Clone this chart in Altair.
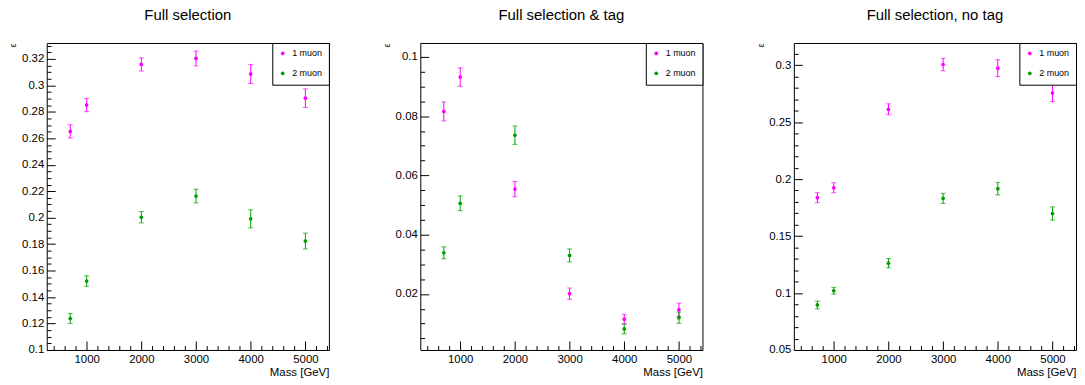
import altair as alt
import pandas as pd

# ---------------- data ----------------
mass = [700, 1000, 2000, 3000, 4000, 5000]
series_names = ["1 muon", "2 muon"]
series_colors = ["#ff00ff", "#00a000"]
panel_titles = ["Full selection", "Full selection & tag", "Full selection, no tag"]

full_1mu = [0.2652, 0.2851, 0.3158, 0.3203, 0.3086, 0.2903]
full_1mu_err = [0.0050, 0.0050, 0.0050, 0.0056, 0.0072, 0.0070]
full_2mu = [0.1238, 0.1521, 0.2003, 0.2163, 0.1991, 0.1823]
full_2mu_err = [0.0037, 0.0040, 0.0043, 0.0052, 0.0068, 0.0060]

tag_1mu = [0.0816, 0.0932, 0.0554, 0.0201, 0.0115, 0.0147]
tag_1mu_err = [0.0032, 0.0031, 0.0026, 0.0019, 0.0016, 0.0022]
tag_2mu = [0.0339, 0.0506, 0.0736, 0.0330, 0.0082, 0.0120]
tag_2mu_err = [0.0020, 0.0025, 0.0031, 0.0022, 0.0016, 0.0019]

notag_1mu = [0.1837, 0.1924, 0.2613, 0.3006, 0.2974, 0.2756]
notag_1mu_err = [0.0044, 0.0044, 0.0048, 0.0055, 0.0074, 0.0076]
notag_2mu = [0.0895, 0.1020, 0.1262, 0.1831, 0.1916, 0.1698]
notag_2mu_err = [0.0034, 0.0030, 0.0041, 0.0044, 0.0055, 0.0058]

# axis ranges and ticks
x_domain = [270, 5430]
x_major = [1000, 2000, 3000, 4000, 5000]
x_minor = [400, 600, 800, 1200, 1400, 1600, 1800, 2200, 2400, 2600, 2800,
           3200, 3400, 3600, 3800, 4200, 4400, 4600, 4800, 5200, 5400]

y_domains = [[0.1, 0.332], [0.0011, 0.1047], [0.05, 0.3195]]
y_minor_steps = [0.005, 0.005, 0.01]
y_major_steps = [0.02, 0.02, 0.05]

FONT = "Liberation Sans"
W, H = 284, 309
XMAJ, XMIN = 9, 4.5
YMAJ, YMIN = 8.5, 4.3


def make_ticks(lo, hi, step):
    vals = []
    k = int(lo / step) - 1
    while k * step <= hi + 1e-9:
        v = round(k * step, 6)
        if lo - 1e-9 <= v <= hi + 1e-9:
            vals.append(v)
        k += 1
    return vals


def panel(i, v1, e1, v2, e2):
    rows = []
    for name, vals, errs in [(series_names[0], v1, e1), (series_names[1], v2, e2)]:
        for m, v, e in zip(mass, vals, errs):
            rows.append({"mass": m, "eff": v, "lo": v - e, "hi": v + e, "series": name})
    df = pd.DataFrame(rows)

    ylo, yhi = y_domains[i]
    y_major = make_ticks(ylo, yhi, y_major_steps[i])
    y_all = make_ticks(ylo, yhi, y_minor_steps[i])
    y_minor = [v for v in y_all if all(abs(v - m) > 1e-6 for m in y_major)]

    def xs():
        return alt.Scale(domain=x_domain, nice=False, zero=False)

    def ys():
        return alt.Scale(domain=[ylo, yhi], nice=False, zero=False)

    def col(legend=None):
        if legend is None:
            return alt.Color("series:N", scale=alt.Scale(domain=series_names, range=series_colors), legend=None)
        return alt.Color("series:N", scale=alt.Scale(domain=series_names, range=series_colors), legend=legend)

    label_x_axis = alt.Axis(
        orient="bottom", values=x_major, format="d", domain=False, grid=False, ticks=False,
        labelOverlap=False, labelFlush=False, labelFontSize=11.5, labelColor="black",
        labelFont=FONT, labelPadding=4,
        title="Mass [GeV]", titleFont=FONT, titleFontSize=11.5, titleFontWeight="normal",
        titleColor="black", titleAnchor="end", titleAlign="right", titleBaseline="alphabetic",
        titleX=W, titleY=26,
    )
    label_y_axis = alt.Axis(
        orient="left", values=y_major, format=".3~f", domain=False, grid=False, ticks=False,
        labelOverlap=False, labelFlush=False, labelFontSize=11.5, labelColor="black",
        labelFont=FONT, labelPadding=3,
        title="ε", titleFont=FONT, titleFontSize=9, titleFontWeight="normal",
        titleColor="black", titleAngle=270, titleAnchor="end", titleAlign="right",
        titleBaseline="alphabetic", titleX=-31, titleY=0,
    )

    def tick_axis(orient, values, size):
        return alt.Axis(orient=orient, values=values, domain=False, grid=False, labels=False,
                        ticks=True, tickSize=size, offset=-size, tickColor="black",
                        tickWidth=1, title=None)

    base = alt.Chart(df)
    pts = base.mark_point(filled=True, shape="circle", size=14, opacity=1).encode(
        x=alt.X("mass:Q", scale=xs(), axis=label_x_axis),
        y=alt.Y("eff:Q", scale=ys(), axis=label_y_axis),
        color=col(alt.Legend(
            title=None, orient="top-right", offset=0, strokeColor="black",
            fillColor="white", padding=6, symbolType="circle", symbolSize=14,
            symbolStrokeWidth=0, labelFontSize=9, labelFont=FONT, labelColor="black",
            labelOffset=5, rowPadding=10, cornerRadius=0,
        )),
    )
    bars = base.mark_rule(strokeWidth=1).encode(
        x=alt.X("mass:Q", scale=xs(), axis=tick_axis("bottom", x_major, XMAJ)),
        y=alt.Y("lo:Q", scale=ys(), axis=tick_axis("left", y_major, YMAJ)),
        y2="hi:Q",
        color=col(),
    )
    caps_lo = base.mark_tick(orient="horizontal", size=5, thickness=1).encode(
        x=alt.X("mass:Q", scale=xs(), axis=tick_axis("bottom", x_minor, XMIN)),
        y=alt.Y("lo:Q", scale=ys(), axis=tick_axis("left", y_minor, YMIN)),
        color=col(),
    )
    caps_hi = base.mark_tick(orient="horizontal", size=5, thickness=1).encode(
        x=alt.X("mass:Q", scale=xs(), axis=None),
        y=alt.Y("hi:Q", scale=ys(), axis=None),
        color=col(),
    )
    return alt.layer(bars, caps_lo, caps_hi, pts).resolve_scale(
        x="independent", y="independent"
    ).resolve_axis(x="independent", y="independent").resolve_legend(
        color="independent"
    ).properties(
        width=W, height=H,
        title=alt.TitleParams(panel_titles[i], font=FONT, fontSize=15, fontWeight="normal",
                              color="black", anchor="middle", baseline="alphabetic", offset=8),
    )


p1 = panel(0, full_1mu, full_1mu_err, full_2mu, full_2mu_err)
p2 = panel(1, tag_1mu, tag_1mu_err, tag_2mu, tag_2mu_err)
p3 = panel(2, notag_1mu, notag_1mu_err, notag_2mu, notag_2mu_err)

chart = alt.hconcat(p1, p2, p3, spacing=92, bounds="flush").resolve_scale(
    color="independent"
).resolve_legend(color="independent").properties(
    background="white", padding={"left": 0, "top": -2, "right": 0, "bottom": 0}
).configure_view(
    stroke="black", strokeWidth=1
)

chart.save("out.html", embed_options={"renderer": "svg", "actions": False})
